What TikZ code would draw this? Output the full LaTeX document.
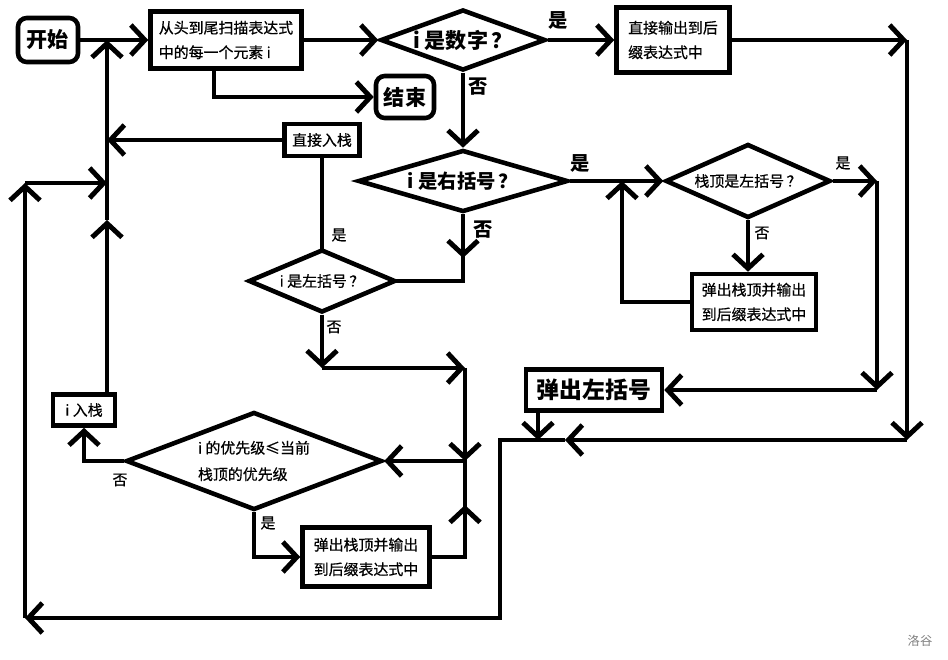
\documentclass[tikz,border=0pt]{standalone}
\usepackage{fontspec}
\setmainfont{Noto Sans CJK SC}
\newfontfamily\heavy[FakeBold=0.6]{Noto Sans CJK SC}
\usetikzlibrary{shapes.geometric,arrows.meta}
\tikzset{
  box/.style   = {rectangle, draw=black, line width=2.6pt, fill=white,
                  align=left, inner sep=0pt, font=\heavy\fontsize{8.5}{14}\selectfont},
  term/.style  = {rectangle, rounded corners=5pt, draw=black, line width=2.6pt,
                  fill=white, inner sep=0pt, font=\fontsize{12}{14}\selectfont\bfseries},
  dec/.style   = {diamond, draw=black, line width=2.6pt, fill=white,
                  inner sep=0pt, align=left, font=\heavy\fontsize{8.5}{15}\selectfont},
  flow/.style  = {-{Straight Barb[length=2.8mm,width=6mm]}, line width=2.8pt},
  link/.style  = {line width=2.8pt, line cap=rect},
  yes/.style   = {font=\fontsize{11}{12}\selectfont\bfseries},
  tag/.style   = {font=\heavy\fontsize{8.5}{10}\selectfont},
}
\begin{document}
\begin{tikzpicture}[x=0.02cm, y=-0.02cm]
  \useasboundingbox (0,0) rectangle (948,660);

  % blocks
  \node[term, minimum width=1.2cm, minimum height=0.88cm] (start) at (48,40) {开始};
  \node[box, minimum width=3.02cm, minimum height=1.14cm] (scan) at (226,40)
    {从头到尾扫描表达式\\中的每一个元素 i};
  \node[term, minimum width=1.16cm, minimum height=0.84cm] (stop) at (405,97) {结束};
  \node[dec, aspect=2.67, minimum width=3.3cm, minimum height=1.22cm,
        font=\fontsize{12}{14}\selectfont\bfseries] (isnum) at (463,40) {i 是数字\,？};
  \node[box, minimum width=2.26cm, minimum height=1.3cm] (outnum) at (673,40)
    {直接输出到后\\缀表达式中};
  \node[box, minimum width=1.5cm, minimum height=0.64cm] (push) at (322,140) {直接入栈};
  \node[dec, aspect=3.3, minimum width=4.2cm, minimum height=1.24cm,
        font=\fontsize{11}{13}\selectfont\bfseries] (isrp) at (463,181) {i 是右括号\,？};
  \node[dec, aspect=2.3, minimum width=2.94cm, minimum height=1.26cm] (islp) at (322,281) {i 是左括号\,？};
  \node[dec, aspect=2.2, minimum width=3.3cm, minimum height=1.48cm] (toplp) at (748,181) {栈顶是左括号\,？};
  \node[box, minimum width=2.48cm, minimum height=1.12cm] (popout) at (754,302)
    {弹出栈顶并输出\\到后缀表达式中};
  \node[box, minimum width=2.72cm, minimum height=0.82cm,
        font=\fontsize{13}{14}\selectfont\bfseries] (poplp) at (594,390) {弹出左括号};
  \node[box, minimum width=1.24cm, minimum height=0.62cm] (pushi) at (84,410) {i 入栈};
  \node[dec, aspect=2.58, minimum width=5.12cm, minimum height=1.96cm] (cmp) at (254,461)
    {i 的优先级≤当前\\栈顶的优先级};
  \node[box, minimum width=2.54cm, minimum height=1.18cm] (popcmp) at (366,557)
    {弹出栈顶并输出\\到后缀表达式中};

  % bends
  \coordinate (ne) at (907,40);
  \coordinate (se) at (907,440);
  \coordinate (lb) at (565,440);
  \coordinate (bot) at (500,618);
  \coordinate (sw) at (25,618);
  \coordinate (nw) at (25,183);
  \coordinate (sp) at (107,183);
  \coordinate (spup) at (107,220);
  \coordinate (rpd) at (463,258);
  \coordinate (lpd) at (322,368);
  \coordinate (mj) at (465,368);
  \coordinate (md) at (465,461);
  \coordinate (mu) at (465,505);
  \coordinate (tr) at (877,181);
  \coordinate (br) at (877,390);
  \coordinate (lp) at (622,181);
  \coordinate (pj) at (538,440);

  % connectors
  \draw[flow] (start) -- (scan);
  \draw[flow] (scan) -- (isnum);
  \draw[flow] ([xshift=-0.24cm]scan.south) |- (stop);
  \draw[flow] (isnum) -- (outnum);
  \draw[flow] (outnum) -- (ne);
  \draw[flow] (ne) -- (se);
  \draw[flow] (se) -- (lb);
  \draw[flow] (lb) -| (bot) -- (sw);
  \draw[flow] (sw) -- (nw);
  \draw[flow] (nw) -- (sp);
  \draw[flow] (pushi.north -| sp) -- (spup);
  \draw[flow] (spup) -- (start.east -| sp);
  \draw[flow] (push) -- (push -| sp);
  \draw[link] (islp) -- (push);
  \draw[flow] (isnum) -- (isrp);
  \draw[flow] (isrp) -- (rpd);
  \draw[link] (rpd) |- (islp.east);
  \draw[flow] (isrp) -- (toplp);
  \draw[flow] (popout.west) -| (lp);
  \draw[flow] (toplp.south) -- (toplp.south |- popout.north);
  \draw[flow] (toplp) -- (tr);
  \draw[flow] (tr) -- (br);
  \draw[flow] (br) -- (poplp);
  \draw[flow] (poplp.south -| pj) -- (pj);
  \draw[flow] (islp) -- (lpd);
  \draw[flow] (lpd) -- (mj);
  \draw[flow] (mj) -- (md);
  \draw[flow] (md) -- (cmp);
  \draw[flow] (cmp.west) -| (pushi.south);
  \draw[flow] (cmp.south) |- (popcmp);
  \draw[flow] (popcmp) -| (mu);
  \draw[link] (mu) -- (md);

  % branch labels
  \node[yes] (yesnum) at (558,20) {是};
  \node[yes] (nonum) at (478,87) {否};
  \node[yes] (yesrp) at (580,163) {是};
  \node[yes] (norp) at (483,230) {否};
  \node[tag] (yestop) at (843,163) {是};
  \node[tag] (notop) at (762,233) {否};
  \node[tag] (yeslp) at (339,235) {是};
  \node[tag] (nolp) at (334,327) {否};
  \node[tag] (nocmp) at (120,480) {否};
  \node[tag] (yescmp) at (268,523) {是};

  \node[text=gray, font=\fontsize{7}{8}\selectfont] (mark) at (920,641) {洛谷};
\end{tikzpicture}
\end{document}
